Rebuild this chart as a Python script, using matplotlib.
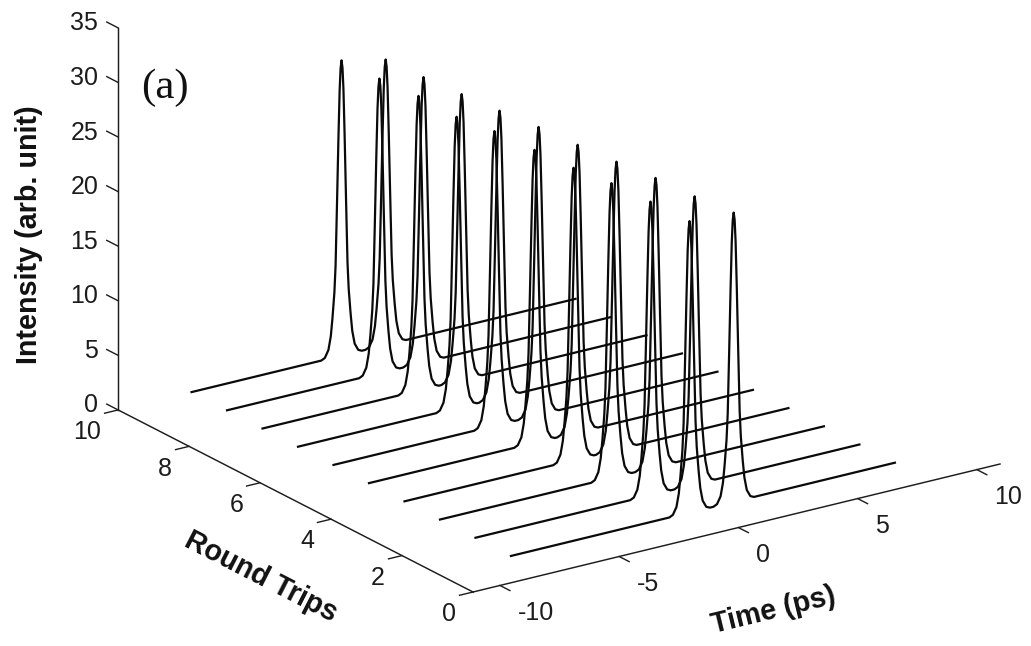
import matplotlib
matplotlib.use("Agg")
import numpy as np
import matplotlib.pyplot as plt
from matplotlib.text import Text
from matplotlib.transforms import ScaledTranslation
from mpl_toolkits.mplot3d import proj3d

# ---- data ----
round_trips = [1, 2, 3, 4, 5, 6, 7, 8, 9, 10]
first_peak_time = [-0.56, -0.71, -0.86, -0.96, -1.11, -1.30, -1.40, -1.51, -1.66, -1.76]
second_peak_time = [1.29, 1.14, 0.99, 0.84, 0.70, 0.55, 0.40, 0.30, 0.19, 0.09]
first_peak_height = [26.7, 26.9, 27.0, 26.8, 26.85, 27.0, 26.7, 27.0, 27.0, 27.05]
second_peak_height = [26.5, 26.4, 26.5, 26.4, 26.35, 26.4, 26.3, 26.2, 26.15, 26.15]
pulse_offset = [-0.85, -0.7, -0.55, -0.45, -0.38, -0.3, -0.25, -0.19, -0.13, -0.08, -0.04, 0.0,
                0.04, 0.08, 0.13, 0.19, 0.25, 0.3, 0.38, 0.45, 0.55, 0.7, 0.85]
pulse_fraction = [0.0, 0.006, 0.03, 0.075, 0.135, 0.22, 0.31, 0.52, 0.74, 0.90, 0.974, 1.0,
                  0.974, 0.90, 0.74, 0.52, 0.31, 0.22, 0.135, 0.075, 0.03, 0.006, 0.0]
time_start, time_end = -8.05, 8.05
time_ticks = [-10, -5, 0, 5, 10]
trip_ticks = [0, 2, 4, 6, 8, 10]
intensity_ticks = [0, 5, 10, 15, 20, 25, 30, 35]
time_limits = (-11.13, 10.97)
trip_limits = (0, 10)
intensity_limits = (0, 35)

W, H = 1031, 646
plt.rcParams['font.family'] = ['Liberation Sans', 'DejaVu Sans']
fig = plt.figure(figsize=(W / 100, H / 100), dpi=100, facecolor='white')
ax = fig.add_axes([0.1, 0.1, 0.8, 0.8], projection='3d', proj_type='ortho', facecolor='none')

ax.set_xlim(*time_limits)
ax.set_ylim(*trip_limits)
ax.set_zlim(*intensity_limits)
ax.view_init(elev=20.67, azim=-124.53)
ax.set_box_aspect((639.6, 626.0, 408.3))
ax.grid(False)

offset = np.array(pulse_offset)
fraction = np.array(pulse_fraction)
for k, p1, p2, h1, h2 in zip(round_trips, first_peak_time, second_peak_time,
                             first_peak_height, second_peak_height):
    t = np.concatenate(([time_start], p1 + offset, p2 + offset, [time_end]))
    z = np.concatenate(([0.0], h1 * fraction, h2 * fraction, [0.0]))
    ax.plot(t, np.full_like(t, k), z, color='#0a0a0a', lw=1.6, solid_joinstyle='round')


def nudge_label(label, dx, dy):
    """Fine shift in pixels; the 3D axis resets these transforms, so apply it at draw time."""
    def draw(renderer):
        label._transform = ax.transData + ScaledTranslation(dx / 100, dy / 100,
                                                            fig.dpi_scale_trans)
        return Text.draw(label, renderer)
    label.draw = draw


ax.zaxis._get_tickdir = lambda position: 1
ink = '#1c1c1c'
for axis, ticks, side, pad, shift in ((ax.xaxis, time_ticks, 'left', -3, (12.5, -19.5)),
                                      (ax.yaxis, trip_ticks, 'right', -5, (-12.5, -18)),
                                      (ax.zaxis, intensity_ticks, 'right', -5, (-12.5, 4))):
    axis.set_ticks(ticks)
    axis.set_ticklabels([str(v) for v in ticks])
    axis.set_pane_color((1, 1, 1, 0))
    axis.pane.set_edgecolor('none')
    axis.line.set_color(ink)
    axis.line.set_linewidth(1.05)
    axis.set_tick_params(labelsize=18, colors=ink, width=1.0, pad=pad)
    info = axis._axinfo['tick']
    info['linewidth'] = {True: 1.0, False: 0.5}
    info['color'] = ink
    for lab in axis.get_ticklabels():
        lab.set_ha(side)
        lab.set_va('center')
        nudge_label(lab, *shift)

ax.xaxis._axinfo['tick'].update(inward_factor=0.35, outward_factor=0.0)
ax.yaxis._axinfo['tick'].update(inward_factor=0.32, outward_factor=0.0)
ax.zaxis._axinfo['tick'].update(inward_factor=0.0, outward_factor=0.40)

label_font = dict(fontsize=20.7, fontweight='bold', color='#111111')
ax.set_xlabel('Time (ps)', labelpad=14, **label_font)
ax.set_ylabel('Round Trips', labelpad=16, **label_font)
ax.set_zlabel('Intensity (arb. unit)', labelpad=22, rotation=90, **label_font)
nudge_label(ax.xaxis.label, 2, -27)
nudge_label(ax.yaxis.label, 20, -23)
nudge_label(ax.zaxis.label, 17, -22)
fig.text(165 / W, 1 - 88 / H, '(a)', family='Liberation Serif', fontsize=31,
         ha='center', va='center', color='#111111')


def to_pixels(x, y, z):
    ax.apply_aspect()
    px, py, _ = proj3d.proj_transform(x, y, z, ax.get_proj())
    return ax.transData.transform((px, py))


# place the square 3D axes so that its frame lands where the reference frame is
target_a = np.array([473.0, H - 592.0])
target_b = np.array([1000.0, H - 464.0])
for _ in range(4):
    a = to_pixels(time_limits[0], 0, 0)
    b = to_pixels(time_limits[1], 0, 0)
    scale = np.linalg.norm(target_b - target_a) / np.linalg.norm(b - a)
    box = ax.get_position(original=True)
    x0, y0, w, h = box.x0 * W, box.y0 * H, box.width * W, box.height * H
    w2, h2 = w * scale, h * scale
    new_a = np.array([x0, y0]) + (a - np.array([x0, y0])) * scale
    x1, y1 = np.array([x0, y0]) + (target_a - new_a)
    ax.set_position([x1 / W, y1 / H, w2 / W, h2 / H])

fig.savefig('out.png', dpi=100, facecolor='white')
